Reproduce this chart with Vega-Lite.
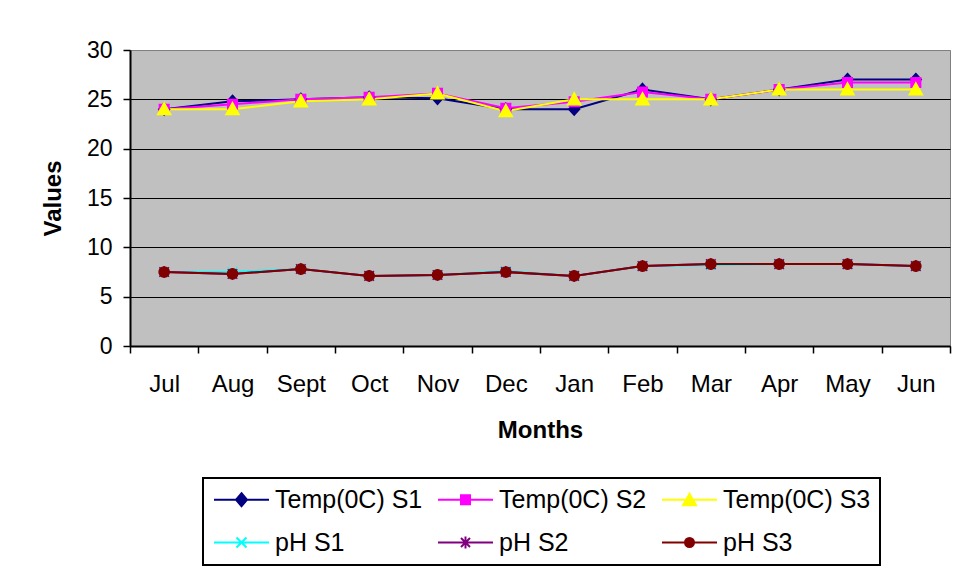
{
  "$schema": "https://vega.github.io/schema/vega-lite/v6.json",
  "width": 820,
  "height": 296,
  "autosize": "none",
  "padding": {"left": 130, "top": 50, "right": 6, "bottom": 223},
  "background": "white",
  "config": {
    "font": "Liberation Sans",
    "view": {"fill": "#C0C0C0", "stroke": "#808080", "strokeWidth": 1},
    "legend": {
      "orient": "none",
      "legendX": 73,
      "legendY": 428,
      "columns": 3,
      "direction": "horizontal",
      "columnPadding": 11,
      "rowPadding": 17,
      "padding": 9,
      "strokeColor": "black",
      "strokeWidth": 2,
      "fillColor": "white",
      "labelFont": "Liberation Sans",
      "labelFontSize": 25,
      "labelColor": "black",
      "labelLimit": 400,
      "symbolSize": 400,
      "symbolStrokeWidth": 2,
      "symbolOpacity": 1,
      "symbolOffset": 17,
      "labelOffset": 21
    }
  },
  "data": {
    "values": [
      {"month": "Jul", "series": "Temp(0C) S1", "value": 24.0},
      {"month": "Aug", "series": "Temp(0C) S1", "value": 24.8},
      {"month": "Sept", "series": "Temp(0C) S1", "value": 25.0},
      {"month": "Oct", "series": "Temp(0C) S1", "value": 25.2},
      {"month": "Nov", "series": "Temp(0C) S1", "value": 25.1},
      {"month": "Dec", "series": "Temp(0C) S1", "value": 24.0},
      {"month": "Jan", "series": "Temp(0C) S1", "value": 24.0},
      {"month": "Feb", "series": "Temp(0C) S1", "value": 26.0},
      {"month": "Mar", "series": "Temp(0C) S1", "value": 25.0},
      {"month": "Apr", "series": "Temp(0C) S1", "value": 26.0},
      {"month": "May", "series": "Temp(0C) S1", "value": 27.0},
      {"month": "Jun", "series": "Temp(0C) S1", "value": 27.0},
      {"month": "Jul", "series": "Temp(0C) S2", "value": 24.0},
      {"month": "Aug", "series": "Temp(0C) S2", "value": 24.5},
      {"month": "Sept", "series": "Temp(0C) S2", "value": 25.0},
      {"month": "Oct", "series": "Temp(0C) S2", "value": 25.2},
      {"month": "Nov", "series": "Temp(0C) S2", "value": 25.6},
      {"month": "Dec", "series": "Temp(0C) S2", "value": 24.1},
      {"month": "Jan", "series": "Temp(0C) S2", "value": 24.75},
      {"month": "Feb", "series": "Temp(0C) S2", "value": 25.75},
      {"month": "Mar", "series": "Temp(0C) S2", "value": 25.0},
      {"month": "Apr", "series": "Temp(0C) S2", "value": 26.0},
      {"month": "May", "series": "Temp(0C) S2", "value": 26.7},
      {"month": "Jun", "series": "Temp(0C) S2", "value": 26.7},
      {"month": "Jul", "series": "Temp(0C) S3", "value": 24.0},
      {"month": "Aug", "series": "Temp(0C) S3", "value": 24.0},
      {"month": "Sept", "series": "Temp(0C) S3", "value": 24.8},
      {"month": "Oct", "series": "Temp(0C) S3", "value": 25.0},
      {"month": "Nov", "series": "Temp(0C) S3", "value": 25.6},
      {"month": "Dec", "series": "Temp(0C) S3", "value": 23.8},
      {"month": "Jan", "series": "Temp(0C) S3", "value": 25.0},
      {"month": "Feb", "series": "Temp(0C) S3", "value": 25.0},
      {"month": "Mar", "series": "Temp(0C) S3", "value": 25.0},
      {"month": "Apr", "series": "Temp(0C) S3", "value": 26.0},
      {"month": "May", "series": "Temp(0C) S3", "value": 26.0},
      {"month": "Jun", "series": "Temp(0C) S3", "value": 26.0},
      {"month": "Jul", "series": "pH S1", "value": 7.5},
      {"month": "Aug", "series": "pH S1", "value": 7.5},
      {"month": "Sept", "series": "pH S1", "value": 7.8},
      {"month": "Oct", "series": "pH S1", "value": 7.1},
      {"month": "Nov", "series": "pH S1", "value": 7.2},
      {"month": "Dec", "series": "pH S1", "value": 7.6},
      {"month": "Jan", "series": "pH S1", "value": 7.1},
      {"month": "Feb", "series": "pH S1", "value": 8.1},
      {"month": "Mar", "series": "pH S1", "value": 8.2},
      {"month": "Apr", "series": "pH S1", "value": 8.3},
      {"month": "May", "series": "pH S1", "value": 8.3},
      {"month": "Jun", "series": "pH S1", "value": 8.1},
      {"month": "Jul", "series": "pH S2", "value": 7.5},
      {"month": "Aug", "series": "pH S2", "value": 7.3},
      {"month": "Sept", "series": "pH S2", "value": 7.8},
      {"month": "Oct", "series": "pH S2", "value": 7.1},
      {"month": "Nov", "series": "pH S2", "value": 7.2},
      {"month": "Dec", "series": "pH S2", "value": 7.5},
      {"month": "Jan", "series": "pH S2", "value": 7.1},
      {"month": "Feb", "series": "pH S2", "value": 8.1},
      {"month": "Mar", "series": "pH S2", "value": 8.3},
      {"month": "Apr", "series": "pH S2", "value": 8.3},
      {"month": "May", "series": "pH S2", "value": 8.3},
      {"month": "Jun", "series": "pH S2", "value": 8.1},
      {"month": "Jul", "series": "pH S3", "value": 7.5},
      {"month": "Aug", "series": "pH S3", "value": 7.3},
      {"month": "Sept", "series": "pH S3", "value": 7.8},
      {"month": "Oct", "series": "pH S3", "value": 7.1},
      {"month": "Nov", "series": "pH S3", "value": 7.2},
      {"month": "Dec", "series": "pH S3", "value": 7.5},
      {"month": "Jan", "series": "pH S3", "value": 7.1},
      {"month": "Feb", "series": "pH S3", "value": 8.1},
      {"month": "Mar", "series": "pH S3", "value": 8.3},
      {"month": "Apr", "series": "pH S3", "value": 8.3},
      {"month": "May", "series": "pH S3", "value": 8.3},
      {"month": "Jun", "series": "pH S3", "value": 8.1}
    ]
  },
  "encoding": {
    "x": {
      "field": "month",
      "type": "ordinal",
      "sort": ["Jul", "Aug", "Sept", "Oct", "Nov", "Dec", "Jan", "Feb", "Mar", "Apr", "May", "Jun"],
      "scale": {"type": "band", "paddingInner": 0, "paddingOuter": 0},
      "axis": {
        "title": "Months",
        "titleFont": "Liberation Sans",
        "titleFontSize": 24,
        "titleFontWeight": "bold",
        "titleColor": "black",
        "titlePadding": 22,
        "labelFont": "Liberation Sans",
        "labelFontSize": 24,
        "labelColor": "black",
        "labelAngle": 0,
        "labelPadding": 19,
        "tickBand": "extent",
        "tickSize": 7,
        "tickColor": "black",
        "tickWidth": 1.5,
        "domainColor": "black",
        "domainWidth": 2,
        "grid": false
      }
    },
    "y": {
      "field": "value",
      "type": "quantitative",
      "scale": {"domain": [0, 30], "nice": false, "zero": true},
      "axis": {
        "title": "Values",
        "titleFont": "Liberation Sans",
        "titleFontSize": 24,
        "titleFontWeight": "bold",
        "titleColor": "black",
        "titlePadding": 21,
        "values": [0, 5, 10, 15, 20, 25, 30],
        "labelFont": "Liberation Sans",
        "labelFontSize": 23,
        "labelColor": "black",
        "labelPadding": 11,
        "tickSize": 7,
        "tickColor": "black",
        "tickWidth": 1.5,
        "domainColor": "black",
        "domainWidth": 2,
        "grid": true,
        "gridColor": {"condition": {"test": "datum.value == 30", "value": "#808080"}, "value": "black"},
        "gridWidth": 1,
        "gridOpacity": 1
      }
    }
  },
  "layer": [
    {
      "mark": {"type": "line", "strokeWidth": 2},
      "encoding": {
        "stroke": {
          "field": "series",
          "type": "nominal",
          "scale": {
            "domain": ["Temp(0C) S1", "Temp(0C) S2", "Temp(0C) S3", "pH S1", "pH S2", "pH S3"],
            "range": ["#000080", "#FF00FF", "#FFFF00", "#00FFFF", "#800080", "#800000"]
          },
          "legend": {"title": null}
        }
      }
    },
    {
      "mark": {"type": "point", "filled": true, "opacity": 0},
      "encoding": {
        "fill": {
          "field": "series",
          "type": "nominal",
          "scale": {
            "domain": ["Temp(0C) S1", "Temp(0C) S2", "Temp(0C) S3", "pH S1", "pH S2", "pH S3"],
            "range": ["#000080", "#FF00FF", "#FFFF00", "#00FFFF", "#800080", "#800000"]
          },
          "legend": {"title": null}
        },
        "stroke": {"field": "series", "type": "nominal", "legend": {"title": null}},
        "shape": {
          "field": "series",
          "type": "nominal",
          "scale": {
            "domain": ["Temp(0C) S1", "Temp(0C) S2", "Temp(0C) S3", "pH S1", "pH S2", "pH S3"],
            "range": [
              "M-2.75,0H2.75M0,-0.65L0.55,0L0,0.65L-0.55,0Z",
              "M-2.75,0H2.75M-0.45,-0.45H0.45V0.45H-0.45Z",
              "M-2.75,0H2.75M0,-0.6L0.65,0.55H-0.65Z",
              "M-2.75,0H2.75M-0.5,-0.5L0.5,0.5M-0.5,0.5L0.5,-0.5",
              "M-2.75,0H2.75M-0.45,-0.45L0.45,0.45M-0.45,0.45L0.45,-0.45M0,-0.6V0.6",
              "M-2.75,0H2.75M0.45,0A0.45,0.45,0,1,1,-0.45,0A0.45,0.45,0,1,1,0.45,0Z"
            ]
          },
          "legend": {"title": null}
        }
      }
    },
    {
      "transform": [{"filter": {"field": "series", "equal": "Temp(0C) S1"}}],
      "mark": {"type": "point", "filled": true, "size": 144, "strokeWidth": 1.5, "opacity": 1, "fill": "#000080", "stroke": "#000080", "shape": "M0,-1L0.9,0L0,1L-0.9,0Z"}
    },
    {
      "transform": [{"filter": {"field": "series", "equal": "Temp(0C) S2"}}],
      "mark": {"type": "point", "filled": true, "size": 144, "strokeWidth": 1.5, "opacity": 1, "fill": "#FF00FF", "stroke": "#FF00FF", "shape": "M-0.8,-0.8H0.8V0.8H-0.8Z"}
    },
    {
      "transform": [{"filter": {"field": "series", "equal": "Temp(0C) S3"}}],
      "mark": {"type": "point", "filled": true, "size": 144, "strokeWidth": 1.5, "opacity": 1, "fill": "#FFFF00", "stroke": "#FFFF00", "shape": "M0,-1.1L1.1,0.9H-1.1Z"}
    },
    {
      "transform": [{"filter": {"field": "series", "equal": "pH S1"}}],
      "mark": {"type": "point", "filled": true, "size": 144, "strokeWidth": 1.5, "opacity": 1, "fill": "#00FFFF", "stroke": "#00FFFF", "shape": "M-0.8,-0.8L0.8,0.8M-0.8,0.8L0.8,-0.8"}
    },
    {
      "transform": [{"filter": {"field": "series", "equal": "pH S2"}}],
      "mark": {"type": "point", "filled": true, "size": 144, "strokeWidth": 1.5, "opacity": 1, "fill": "#800080", "stroke": "#800080", "shape": "M-0.8,-0.8L0.8,0.8M-0.8,0.8L0.8,-0.8M0,-1V1"}
    },
    {
      "transform": [{"filter": {"field": "series", "equal": "pH S3"}}],
      "mark": {"type": "point", "filled": true, "size": 144, "strokeWidth": 1.5, "opacity": 1, "fill": "#800000", "stroke": "#800000", "shape": "M0.85,0A0.85,0.85,0,1,1,-0.85,0A0.85,0.85,0,1,1,0.85,0Z"}
    }
  ]
}
